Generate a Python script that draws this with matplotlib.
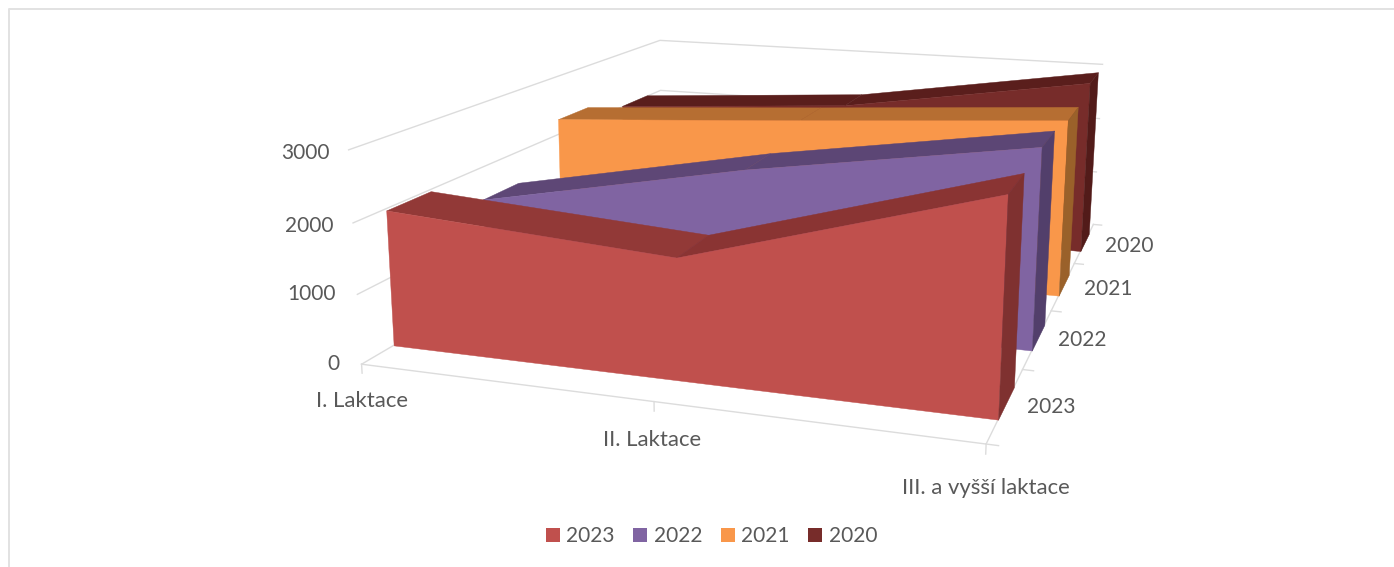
import numpy as np
import matplotlib
matplotlib.use('Agg')
import matplotlib.pyplot as plt
from matplotlib.lines import Line2D
from matplotlib.patches import Patch
from mpl_toolkits.mplot3d.art3d import Poly3DCollection

plt.rcParams['font.family'] = ['Lato', 'DejaVu Sans']

W, H = 1394, 567
TEXT = '#595959'
GRID = '#DCDCDC'

categories = ['I. Laktace', 'II. Laktace', 'III. a vyšší laktace']
years = ['2023', '2022', '2021', '2020']
values_2023 = [1975, 1705, 2915]
values_2022 = [1490, 2300, 2950]
values_2021 = [2265, 2535, 2820]
values_2020 = [2020, 2305, 2965]
z_ticks = [0, 1000, 2000, 3000]

series = [values_2023, values_2022, values_2021, values_2020]
# front, top (first and second segment), right end
shades = [('#C0504D', '#923937', '#8A3433', '#7F3130'),
          ('#8064A2', '#5E4776', '#5C4675', '#523F6B'),
          ('#F9974A', '#B66E32', '#B66E32', '#9A612A'),
          ('#772C2A', '#5A1E1C', '#5A1E1C', '#521B19')]

fig = plt.figure(figsize=(W / 100, H / 100), dpi=100)
ax = fig.add_axes([0, 0, 1, 1], projection='3d', computed_zorder=False)
ax.set_xlim(0, 2)
ax.set_ylim(0, 4)
ax.set_zlim(0, 3000)
ax.view_init(13.749, -72.4287, -0.4509)
ax.set_proj_type('persp', focal_length=0.3301)
ax.set_box_aspect((2.8751, 3.6354, 1), zoom=1)
ax.set_position([0.0646, -0.1277, 0.9782, 1.5318])
ax.set_axis_off()
ax.patch.set_alpha(0)


def line(xs, ys, zs, z=1):
    ax.plot(xs, ys, zs, color=GRID, lw=1.0, zorder=z)


# walls
for v in z_ticks[1:]:
    line([0, 0, 2], [0, 4, 4], [v, v, v])
# floor edges and ticks
line([0, 2, 2], [0, 0, 4], [0, 0, 0])
line([0, 0], [0, 4], [0, 0])
for i in range(len(categories)):
    line([i, i], [0, 0], [0, -130])
for d in range(len(years) + 1):
    line([2, 2.035], [d, d], [0, 0])

# ribbons, back one first
n = len(series)
for d in reversed(range(n)):
    vals = series[d]
    front, top1, top2, side = shades[d]
    y0, y1 = d + 0.30, d + 0.74
    xs = list(range(len(vals)))
    base = 10 * (n - d)
    faces = []
    for i, col in zip(xs[:-1], (top1, top2)):
        faces.append(([(i, y0, vals[i]), (i + 1, y0, vals[i + 1]),
                       (i + 1, y1, vals[i + 1]), (i, y1, vals[i])], col))
    faces.append(([(x, y0, v) for x, v in zip(xs, vals)] + [(xs[-1], y0, 0), (0, y0, 0)], front))
    faces.append(([(xs[-1], y0, vals[-1]), (xs[-1], y1, vals[-1]),
                   (xs[-1], y1, 0), (xs[-1], y0, 0)], side))
    for k, (poly, col) in enumerate(faces):
        pc = Poly3DCollection([poly], facecolors=col, edgecolors=col, linewidths=0.3, zorder=base + k)
        ax.add_collection3d(pc)


def px_text(x, y, s, size=15, **kw):
    fig.text(x / W, 1 - y / H, s, color=TEXT, fontsize=size, va='center', **kw)


for v, (px, py) in zip(z_ticks, ((340, 364), (336, 294), (333, 226), (330, 153))):
    px_text(px, py, str(v), ha='right')
for s, (px, py) in zip(categories, ((408, 401), (701, 440), (1070, 488))):
    px_text(px, py, s, size=15.9, ha='right')
for s, (px, py) in zip(years, ((1027, 407), (1058, 340), (1084, 289), (1105, 246))):
    px_text(px, py, s, ha='left')

handles = [Patch(facecolor=s[0], edgecolor='none') for s in shades]
fig.legend(handles, years, loc='center', bbox_to_anchor=(711.5 / W, 1 - 536 / H), ncols=4, frameon=False,
           fontsize=15, labelcolor=TEXT, handlelength=0.67, handleheight=0.67,
           handletextpad=0.3, columnspacing=0.9, borderpad=0)

# chart frame, open on the right and bottom
fig.add_artist(Line2D([8.5 / W, 8.5 / W, 1], [0, 1 - 8.5 / H, 1 - 8.5 / H], color='#E2E2E2', lw=1.44))

fig.savefig('out.png', dpi=100)
